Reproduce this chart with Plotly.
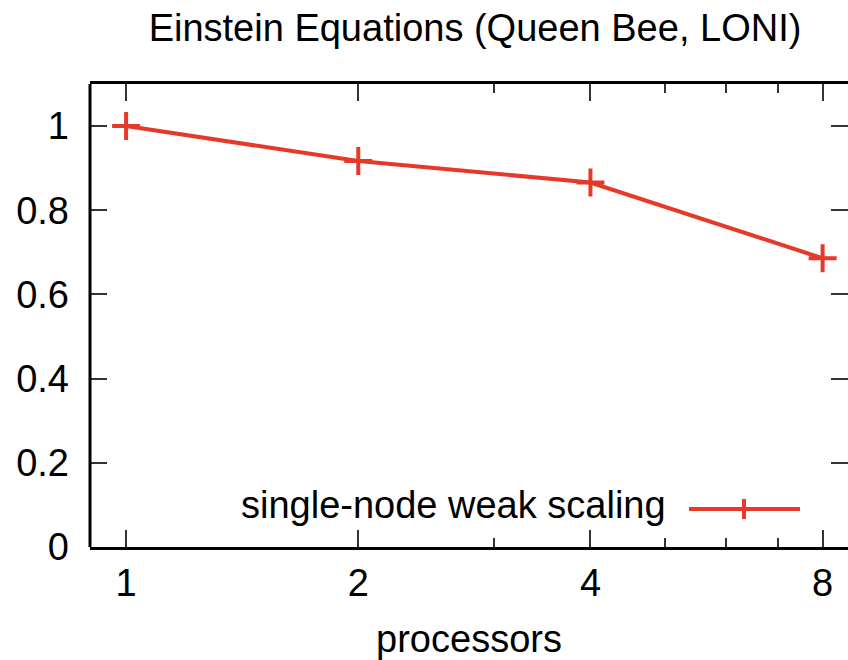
import plotly.graph_objects as go

# Weak-scaling efficiency of the Einstein equations solver on one node
processors = [1, 2, 4, 8]
efficiency = [1.0, 0.917, 0.866, 0.686]
series_name = "single-node weak scaling"

x_major = [1, 2, 4, 8]
x_major_text = ["1", "2", "4", "8"]
x_minor = [3, 5, 6, 7]
y_ticks = [0, 0.2, 0.4, 0.6, 0.8, 1.0]
y_tick_text = ["0", "0.2", "0.4", "0.6", "0.8", "1"]

RED = "#e6392a"
INK = "#000000"
TICK = "#333333"
FONT = "Liberation Sans, Arial, Helvetica, sans-serif"

W, H = 848, 660
ML, MR, MT, MB = 90, 0, 84, 113
PW, PH = W - ML - MR, H - MT - MB


def px(x):
    return (x - ML) / PW


def py(y):
    return (H - MB - y) / PH


fig = go.Figure()
fig.add_trace(go.Scatter(
    x=processors, y=efficiency, name=series_name,
    mode="lines+markers",
    line=dict(color=RED, width=4),
    marker=dict(symbol="cross-thin-open", size=20,
                line=dict(color=RED, width=4), color=RED),
    showlegend=False,
))

axis_font = dict(family=FONT, size=38, color=INK)

fig.update_layout(
    width=W, height=H,
    margin=dict(l=ML, r=MR, t=MT, b=MB, pad=0),
    paper_bgcolor="white", plot_bgcolor="white",
    font=axis_font,
    title=dict(text="Einstein Equations (Queen Bee, LONI)",
               font=dict(family=FONT, size=38, color=INK),
               x=475 / W, xref="container", xanchor="center",
               y=1 - 14 / H, yref="container", yanchor="top"),
    xaxis=dict(
        type="log",
        range=[-0.0468, 0.936],
        tickmode="array", tickvals=x_major, ticktext=x_major_text,
        ticks="inside", ticklen=17, tickwidth=2, tickcolor=TICK,
        minor=dict(tickmode="array", tickvals=x_minor, ticks="inside",
                   ticklen=9, tickwidth=2, tickcolor=TICK, showgrid=False),
        showline=True, linewidth=3, linecolor=INK, mirror="ticks",
        showgrid=False, zeroline=False,
        ticklabelstandoff=0,
        tickfont=axis_font,
        title=dict(text="processors", font=axis_font, standoff=26),
    ),
    yaxis=dict(
        range=[0, 1.1],
        tickmode="array", tickvals=y_ticks, ticktext=y_tick_text,
        ticks="inside", ticklen=17, tickwidth=2, tickcolor=TICK,
        showline=False, mirror="ticks",
        showgrid=False, zeroline=False,
        ticklabelstandoff=20,
        tickfont=axis_font,
    ),
)

# left border of the plot frame
fig.add_shape(type="line", xref="paper", yref="paper",
              x0=0, x1=0, y0=0, y1=1, line=dict(color=INK, width=3))

# key: label on the left, line sample with a cross on the right
fig.add_annotation(text=series_name, xref="paper", yref="paper",
                   x=px(668), y=py(505), xanchor="right", yanchor="middle",
                   showarrow=False, font=axis_font)
fig.add_shape(type="line", xref="paper", yref="paper",
              x0=px(689), x1=px(800), y0=py(509), y1=py(509),
              line=dict(color=RED, width=4))
fig.add_shape(type="line", xref="paper", yref="paper",
              x0=px(744), x1=px(744), y0=py(499), y1=py(519),
              line=dict(color=RED, width=4))

fig.write_html("out.html")
